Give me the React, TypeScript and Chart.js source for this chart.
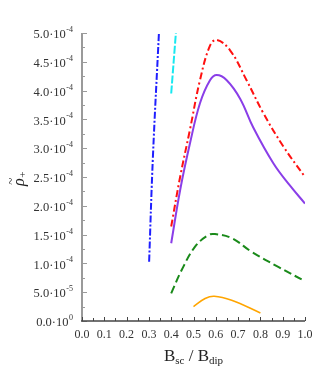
import React, { useEffect, useRef } from "react";
import { Chart, registerables } from "chart.js";

Chart.register(...registerables);

// ---- data (y in absolute units) ----
const xBlue = [0.301, 0.318, 0.345];
const yBlue = [1.03e-4, 2.85e-4, 5.0e-4];

const xCyan = [0.4, 0.421];
const yCyan = [3.95e-4, 5.0e-4];

const xRed = [0.4, 0.44, 0.484, 0.529, 0.574, 0.604, 0.664, 0.738, 0.813, 0.903, 1.0];
const yRed = [1.64e-4, 2.5e-4, 3.32e-4, 4.18e-4, 4.78e-4, 4.88e-4, 4.7e-4, 4.18e-4, 3.61e-4, 3.03e-4, 2.5e-4];

const xPurple = [0.4, 0.44, 0.484, 0.529, 0.574, 0.604, 0.649, 0.709, 0.768, 0.858, 0.933, 1.0];
const yPurple = [1.35e-4, 2.27e-4, 3.08e-4, 3.78e-4, 4.18e-4, 4.27e-4, 4.18e-4, 3.86e-4, 3.36e-4, 2.74e-4, 2.35e-4, 2.04e-4];

const xGreen = [0.4, 0.447, 0.507, 0.566, 0.596, 0.671, 0.761, 0.88, 1.0];
const yGreen = [0.48e-4, 0.885e-4, 1.29e-4, 1.49e-4, 1.51e-4, 1.44e-4, 1.2e-4, 0.94e-4, 0.69e-4];

const xOrange = [0.5, 0.552, 0.593, 0.671, 0.8];
const yOrange = [0.25e-4, 0.39e-4, 0.43e-4, 0.36e-4, 0.14e-4];

// ---- ticks ----
const xTickValues = [0, 0.1, 0.2, 0.3, 0.4, 0.5, 0.6, 0.7, 0.8, 0.9, 1.0];
const xTickLabels = ["0.0", "0.1", "0.2", "0.3", "0.4", "0.5", "0.6", "0.7", "0.8", "0.9", "1.0"];
const xMinorTicks = [0.05, 0.15, 0.25, 0.35, 0.45, 0.55, 0.65, 0.75, 0.85, 0.95];

const yTickValues = [0, 0.5e-4, 1.0e-4, 1.5e-4, 2.0e-4, 2.5e-4, 3.0e-4, 3.5e-4, 4.0e-4, 4.5e-4, 5.0e-4];
const yTickMantissa = ["0.0", "5.0", "1.0", "1.5", "2.0", "2.5", "3.0", "3.5", "4.0", "4.5", "5.0"];
const yTickExponent = ["0", "-5", "-4", "-4", "-4", "-4", "-4", "-4", "-4", "-4", "-4"];
const yMinorTicks = [0.25e-4, 0.75e-4, 1.25e-4, 1.75e-4, 2.25e-4, 2.75e-4, 3.25e-4, 3.75e-4, 4.25e-4, 4.75e-4];

const SERIF = '"Liberation Serif", "DejaVu Serif", serif';

function pts(xs: number[], ys: number[]) {
  return xs.map((x, i) => ({ x, y: ys[i] }));
}

const decorPlugin = {
  id: "decor",
  afterDraw(chart: any) {
    const ctx: CanvasRenderingContext2D = chart.ctx;
    const xs = chart.scales.x;
    const ys = chart.scales.y;
    const { left, right, top, bottom } = chart.chartArea;
    ctx.save();

    // y axis line
    ctx.strokeStyle = "#9a9a9a";
    ctx.lineWidth = 2;
    ctx.beginPath();
    ctx.moveTo(left, bottom);
    ctx.lineTo(left, top);
    ctx.stroke();

    // y ticks
    ctx.lineWidth = 1;
    yTickValues.forEach((v) => {
      const py = Math.round(ys.getPixelForValue(v)) + 0.5;
      ctx.beginPath();
      ctx.moveTo(left, py);
      ctx.lineTo(left + 5, py);
      ctx.stroke();
    });
    yMinorTicks.forEach((v) => {
      const py = Math.round(ys.getPixelForValue(v)) + 0.5;
      ctx.beginPath();
      ctx.moveTo(left, py);
      ctx.lineTo(left + 3, py);
      ctx.stroke();
    });

    // x axis line
    ctx.strokeStyle = "#444";
    ctx.lineWidth = 1.5;
    ctx.beginPath();
    ctx.moveTo(left - 1, bottom);
    ctx.lineTo(right, bottom);
    ctx.stroke();

    ctx.lineWidth = 1;
    xTickValues.forEach((v) => {
      const px = Math.round(xs.getPixelForValue(v)) + 0.5;
      ctx.beginPath();
      ctx.moveTo(px, bottom);
      ctx.lineTo(px, bottom - 4);
      ctx.stroke();
    });
    xMinorTicks.forEach((v) => {
      const px = Math.round(xs.getPixelForValue(v)) + 0.5;
      ctx.beginPath();
      ctx.moveTo(px, bottom);
      ctx.lineTo(px, bottom - 3);
      ctx.stroke();
    });

    // x tick labels
    ctx.fillStyle = "#333";
    ctx.font = `12px ${SERIF}`;
    ctx.textAlign = "center";
    ctx.textBaseline = "middle";
    xTickValues.forEach((v, i) => {
      ctx.fillText(xTickLabels[i], xs.getPixelForValue(v), bottom + 14);
    });

    // y tick labels with superscript exponent
    const rightEdge = left - 9;
    yTickValues.forEach((v, i) => {
      const py = ys.getPixelForValue(v);
      ctx.font = `8px ${SERIF}`;
      ctx.textAlign = "right";
      ctx.textBaseline = "middle";
      const ew = ctx.measureText(yTickExponent[i]).width;
      ctx.fillText(yTickExponent[i], rightEdge, py - 3);
      ctx.font = `12.5px ${SERIF}`;
      ctx.fillText(yTickMantissa[i] + "\u00b710", rightEdge - ew - 0.5, py + 2);
    });

    // x title: B_sc / B_dip
    ctx.fillStyle = "#222";
    ctx.textAlign = "left";
    ctx.textBaseline = "alphabetic";
    const big = `17px ${SERIF}`;
    const small = `11px ${SERIF}`;
    const parts: [string, string, number][] = [
      ["B", big, 0],
      ["sc", small, 3],
      [" / ", big, 0],
      ["B", big, 0],
      ["dip", small, 3],
    ];
    let total = 0;
    parts.forEach(([t, f]) => {
      ctx.font = f;
      total += ctx.measureText(t).width;
    });
    let cx = (left + right) / 2 - total / 2;
    const base = 361;
    parts.forEach(([t, f, dy]) => {
      ctx.font = f;
      ctx.fillText(t, cx, base + dy);
      cx += ctx.measureText(t).width;
    });

    // y title: rho tilde with + subscript (rotated)
    ctx.save();
    ctx.translate(24, 186);
    ctx.rotate(-Math.PI / 2);
    ctx.font = `italic 16px ${SERIF}`;
    ctx.textAlign = "left";
    ctx.textBaseline = "alphabetic";
    ctx.fillText("\u03c1", 0, 0);
    const rw = ctx.measureText("\u03c1").width;
    ctx.font = `13px ${SERIF}`;
    ctx.textAlign = "center";
    ctx.fillText("~", rw / 2 + 1, -9);
    ctx.font = `11px ${SERIF}`;
    ctx.textAlign = "left";
    ctx.fillText("+", rw + 0.5, 2);
    ctx.restore();

    ctx.restore();
  },
};

export default function App() {
  const ref = useRef<HTMLCanvasElement | null>(null);

  useEffect(() => {
    if (!ref.current) return;
    const common = {
      pointRadius: 0,
      fill: false,
      borderWidth: 2,
      tension: 0.4,
    };
    const chart = new Chart(ref.current, {
      type: "line",
      data: {
        datasets: [
          { ...common, data: pts(xBlue, yBlue), borderColor: "#1f1fff", borderDash: [7, 2, 2, 2] },
          { ...common, data: pts(xCyan, yCyan), borderColor: "#18e8f0", borderDash: [8, 2] },
          { ...common, data: pts(xRed, yRed), borderColor: "#ff1010", borderDash: [7, 3, 2, 3] },
          { ...common, data: pts(xPurple, yPurple), borderColor: "#8a3ee8" },
          { ...common, data: pts(xGreen, yGreen), borderColor: "#1a8a1a", borderDash: [8, 4] },
          { ...common, data: pts(xOrange, yOrange), borderColor: "#ffa500", borderWidth: 1.6 },
        ],
      },
      options: {
        responsive: false,
        animation: false,
        events: [],
        layout: { padding: { left: 82, right: 17, top: 33, bottom: 65 } },
        plugins: { legend: { display: false }, tooltip: { enabled: false } },
        scales: {
          x: {
            type: "linear",
            min: 0,
            max: 1,
            ticks: { display: false },
            grid: { display: false, drawTicks: false },
            border: { display: false },
          },
          y: {
            type: "linear",
            min: 0,
            max: 5e-4,
            ticks: { display: false },
            grid: { display: false, drawTicks: false },
            border: { display: false },
          },
        },
      },
      plugins: [decorPlugin],
    });
    return () => chart.destroy();
  }, []);

  return (
    <div style={{ position: "absolute", left: 0, top: 0, width: 322, height: 386, background: "#fff" }}>
      <canvas ref={ref} width={322} height={386} style={{ display: "block" }} />
    </div>
  );
}
